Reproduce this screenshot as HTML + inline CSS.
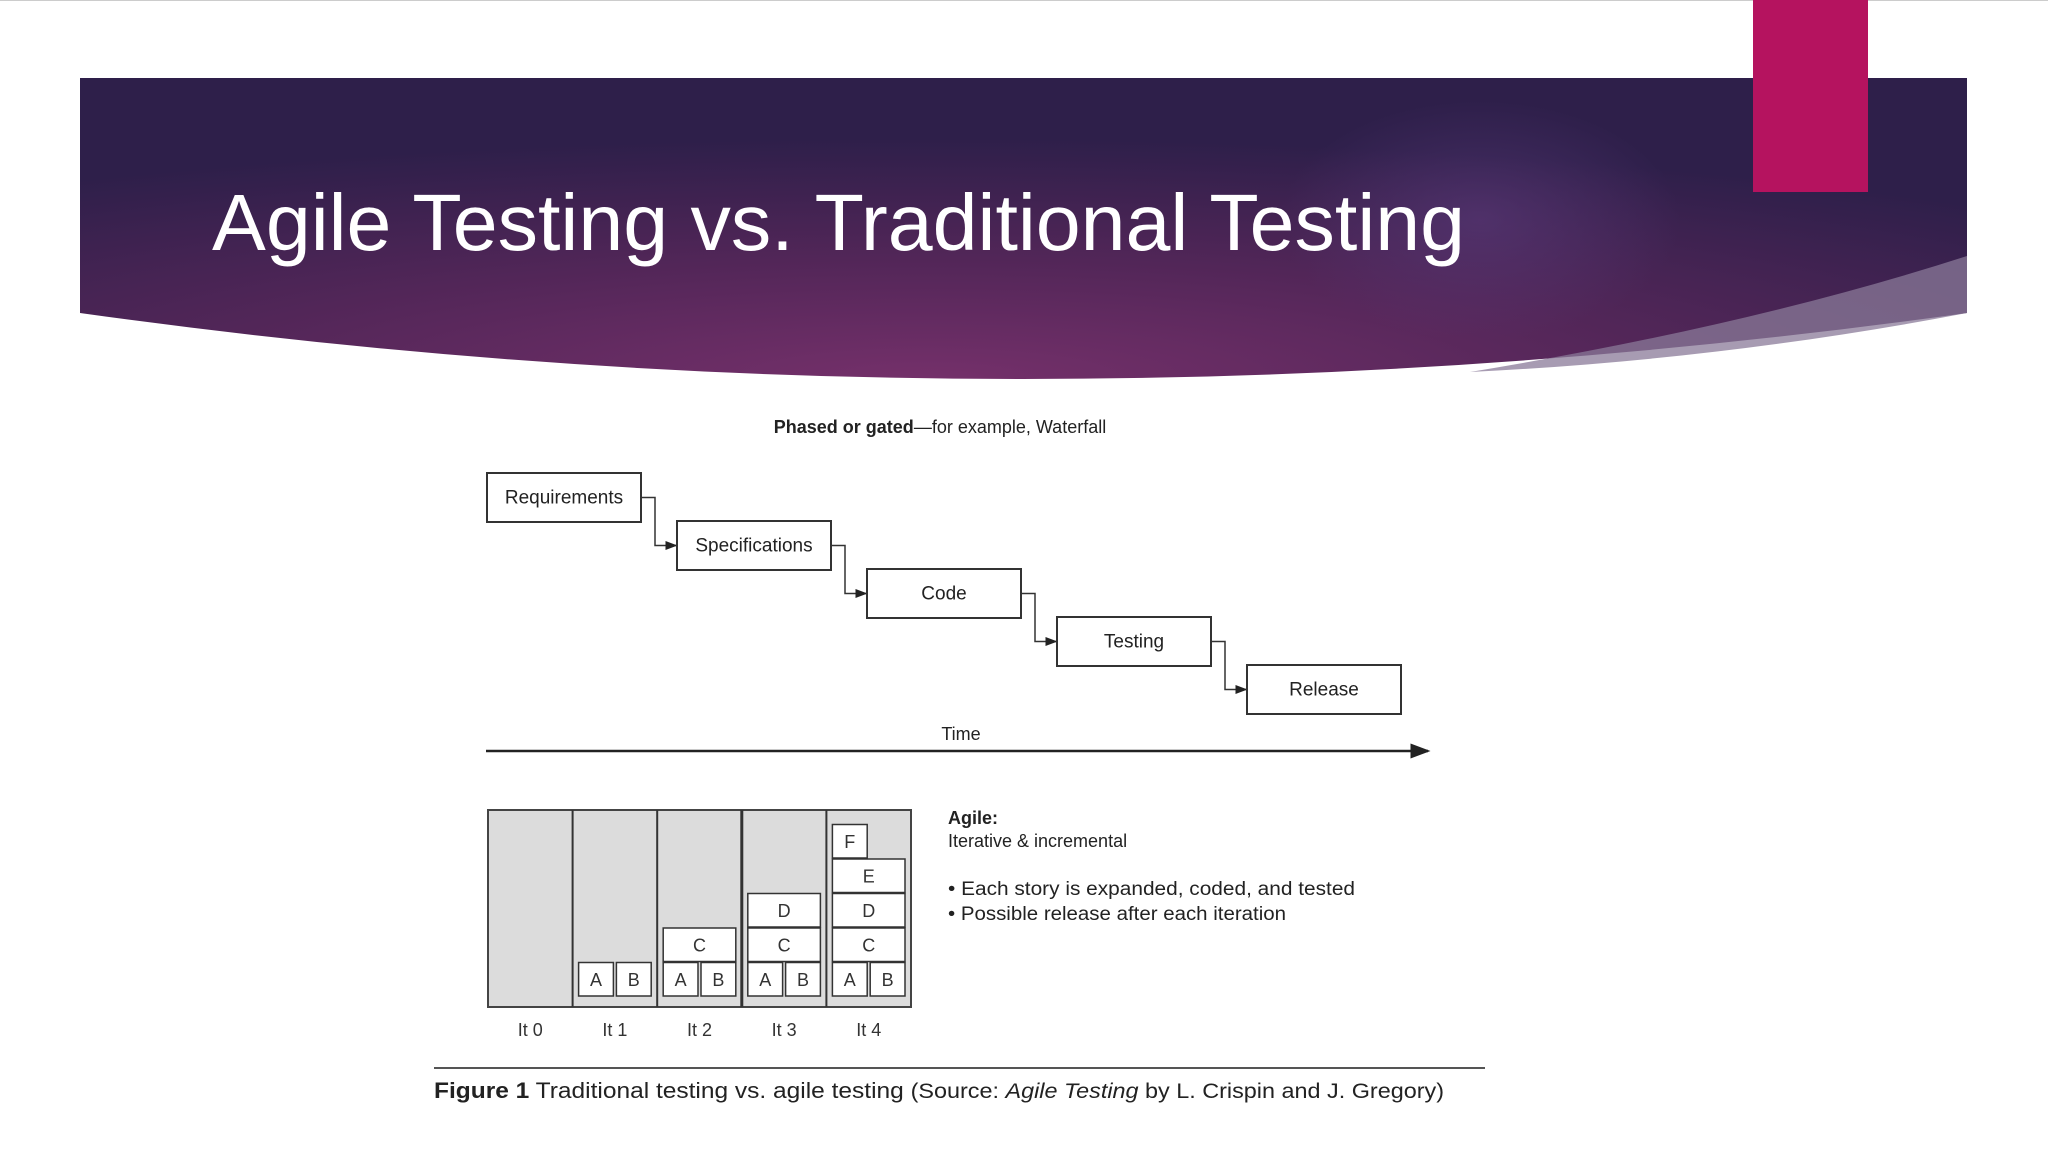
<!DOCTYPE html>
<html><head><meta charset="utf-8">
<style>
html,body{margin:0;padding:0;background:#fff;width:2048px;height:1152px;overflow:hidden}
svg{display:block}
text{font-family:"Liberation Sans",sans-serif}
</style></head>
<body>
<svg id="slide" width="2048" height="1152" viewBox="0 0 2048 1152">
<defs>
<radialGradient id="bg" cx="0.45" cy="1" r="0.8">
<stop offset="0" stop-color="#74306a"/>
<stop offset="0.5" stop-color="#522658"/>
<stop offset="1" stop-color="#2e1f4a"/>
</radialGradient>
<radialGradient id="glow" cx="0.5" cy="0.5" r="0.5">
<stop offset="0" stop-color="#5a3a7a" stop-opacity="0.6"/>
<stop offset="1" stop-color="#5a3a7a" stop-opacity="0"/>
</radialGradient>
<marker id="arr" markerWidth="8" markerHeight="8" refX="7" refY="4" orient="auto"><path d="M0,1 L8,4 L0,7 Z" fill="#222"/></marker>
</defs>
<line x1="0" y1="0.5" x2="2048" y2="0.5" stroke="#ccc"/>
<path d="M80 78 H1967 V313 Q1023 445 80 313 Z" fill="url(#bg)"/>
<ellipse cx="1480" cy="220" rx="200" ry="120" fill="url(#glow)"/>
<path d="M1470 372 Q1750 326 1967 256 V313 Q1720 360 1470 372 Z" fill="#8a7a98" opacity="0.75"/>
<rect x="1753" y="0" width="115" height="192" fill="#b5135f"/>
<text x="212" y="250" font-size="80" fill="#fff" textLength="1253" lengthAdjust="spacingAndGlyphs">Agile Testing vs. Traditional Testing</text>

<text x="940" y="433" font-size="18" text-anchor="middle" fill="#222"><tspan font-weight="bold">Phased or gated</tspan>—for example, Waterfall</text>
<g id="waterfall"></g>
<text x="961" y="740" font-size="18" text-anchor="middle" fill="#222">Time</text>
<line x1="486" y1="751" x2="1428" y2="751" stroke="#222" stroke-width="2.5" marker-end="url(#arr)"/>

<g id="agile"></g>
<text x="948" y="824" font-size="18" font-weight="bold" fill="#222">Agile:</text>
<text x="948" y="847" font-size="18" fill="#222">Iterative &amp; incremental</text>
<text x="948" y="895" font-size="19" fill="#222" textLength="407" lengthAdjust="spacingAndGlyphs">• Each story is expanded, coded, and tested</text>
<text x="948" y="920" font-size="19" fill="#222" textLength="338" lengthAdjust="spacingAndGlyphs">• Possible release after each iteration</text>

<line x1="434" y1="1068" x2="1485" y2="1068" stroke="#555" stroke-width="2"/>
<text x="434" y="1098" font-size="22" fill="#222" textLength="1010" lengthAdjust="spacingAndGlyphs"><tspan font-weight="bold">Figure 1</tspan>   Traditional testing vs. agile testing  <tspan font-size="21">(Source: <tspan font-style="italic">Agile Testing</tspan> by L. Crispin and J. Gregory)</tspan></text>
</svg>
<script>
const phases = ["Requirements","Specifications","Code","Testing","Release"];
const iterations = ["It 0","It 1","It 2","It 3","It 4"];
const storyRows = [[],[["A","B"]],[["A","B"],["C"]],[["A","B"],["C"],["D"]],[["A","B"],["C"],["D"],["E"],["F"]]];
const NS="http://www.w3.org/2000/svg";
function mk(tag,attrs,parent){const e=document.createElementNS(NS,tag);for(const k in attrs)e.setAttribute(k,attrs[k]);parent.appendChild(e);return e;}
const wf=document.getElementById('waterfall');
const bx0=487,by0=473,bw=154,bh=49,dx=190,dy=48;
phases.forEach((p,i)=>{
  const x=bx0+i*dx,y=by0+i*dy;
  const r=mk('rect',{x:x,y:y,width:bw,height:bh,fill:'#fff',stroke:'#333','stroke-width':2},wf);
  
  
  const t=mk('text',{x:x+bw/2,y:y+bh/2+6,'font-size':19,'text-anchor':'middle',fill:'#222'},wf);
  t.textContent=p;
  
  
  if(i<phases.length-1){
    const nx=x+dx,ny=y+dy+bh/2,my=y+bh/2,cx=x+bw+14;
    const c=mk('path',{d:`M${x+bw} ${my} H${cx} V${ny} H${nx-1}`,fill:'none',stroke:'#333','stroke-width':1.5,'marker-end':'url(#arr)'},wf);
    
    
  }
});
const ag=document.getElementById('agile');
const gx=488,gy=810,gw=423,gh=197,cw=gw/iterations.length,rh=34.5,inset=6;
mk('rect',{x:gx,y:gy,width:gw,height:gh,fill:'#dcdcdc',stroke:'#444','stroke-width':2},ag);
iterations.forEach((lab,i)=>{
  const x=gx+i*cw;
  if(i>0){const l=mk('line',{x1:x,y1:gy,x2:x,y2:gy+gh,stroke:'#333','stroke-width':i==3?3:2},ag);
    }
  const t=mk('text',{x:x+cw/2,y:1036,'font-size':18,'text-anchor':'middle',fill:'#333'},ag);
  t.textContent=lab;
  
  
  const rows=storyRows[i];
  const inner=cw-2*inset;
  rows.forEach((row,r)=>{
    const y=gy+gh-10-(r+1)*rh;
    const isLast=(r==rows.length-1&&row.length==1&&r>=4);
    const w=isLast?inner/2-1.5:(inner-(row.length-1)*3)/row.length;
    row.forEach((s,k)=>{
      const bx=x+inset+k*(w+3);
      const b=mk('rect',{x:bx,y:y,width:w,height:rh-1,fill:'#fff',stroke:'#333','stroke-width':1.5},ag);
      
      
      const st=mk('text',{x:bx+w/2,y:y+rh/2+6,'font-size':18,'text-anchor':'middle',fill:'#333'},ag);
      st.textContent=s;
      
      
    });
  });
});
</script>
</body></html>
